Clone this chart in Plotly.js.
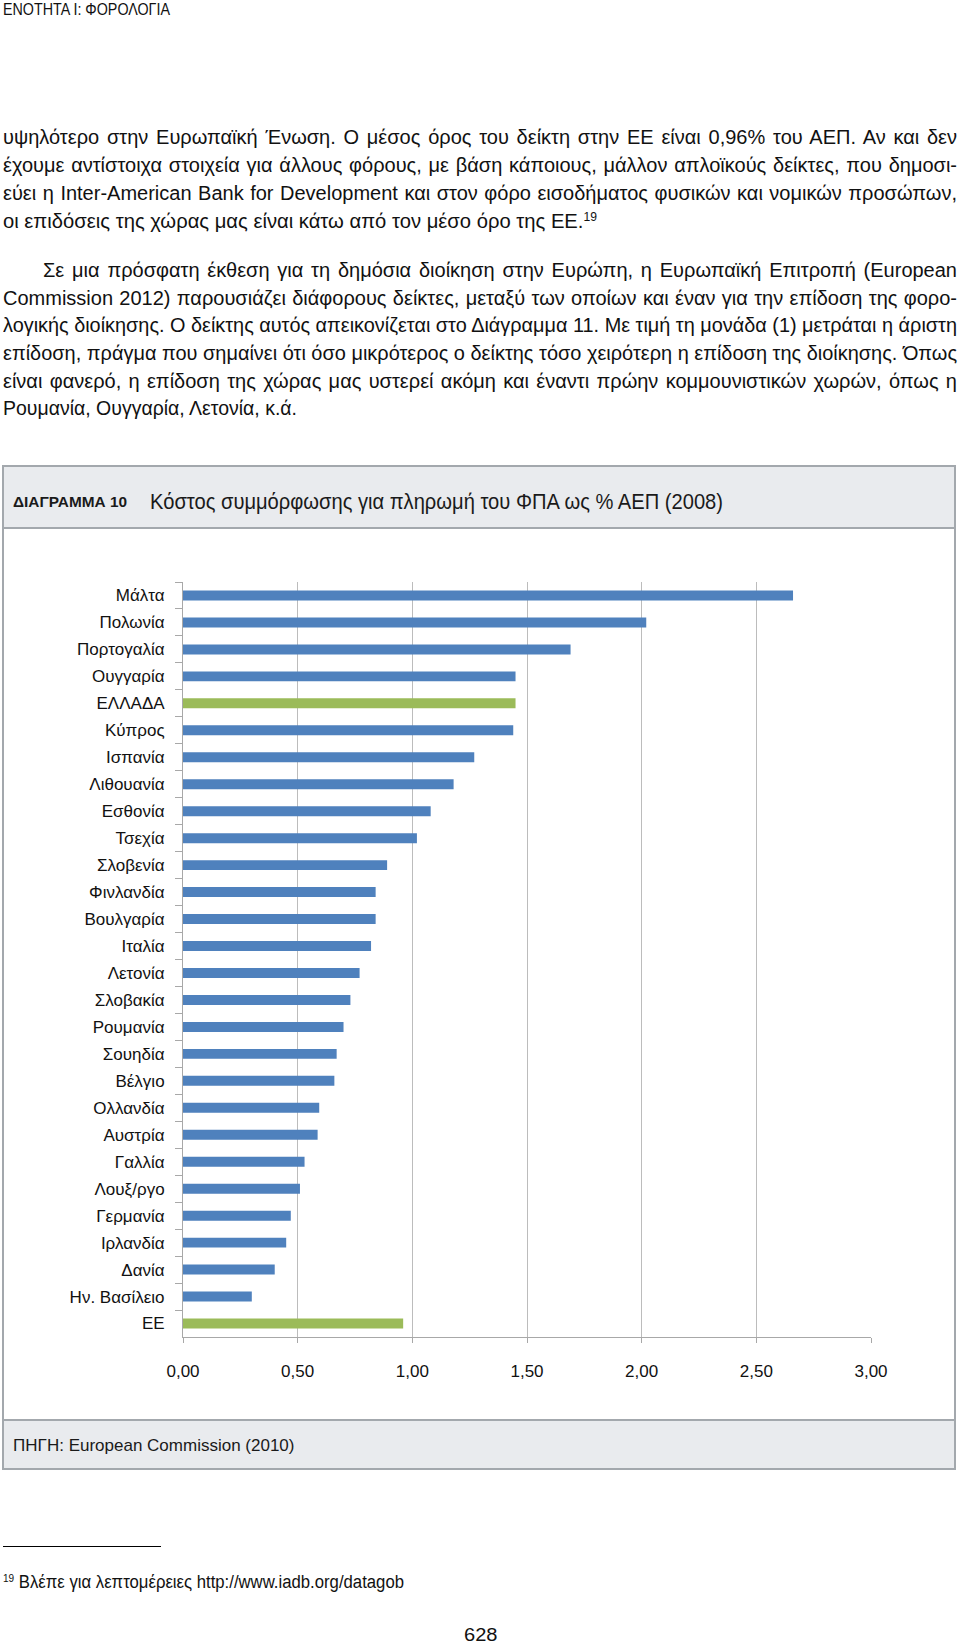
<!DOCTYPE html>
<html>
<head>
<meta charset="utf-8">
<script src="https://cdn.plot.ly/plotly-3.0.1.min.js"></script>
<style>
html,body{margin:0;padding:0;background:#fff;}
body{width:960px;height:1644px;position:relative;overflow:hidden;font-family:"Liberation Sans",Arial,sans-serif;color:#111;}
.t{position:absolute;white-space:nowrap;line-height:1;transform-origin:0 0;}
.t sup{font-size:0.6em;vertical-align:0.55em;line-height:0;}
#box{position:absolute;left:2px;top:465px;width:954px;height:1005px;border:2px solid #a3a8ad;box-sizing:border-box;background:#fff;}
#tbar{position:absolute;left:0;top:0;width:100%;height:62px;background:#e9ebee;border-bottom:2px solid #a3a8ad;box-sizing:border-box;}
#sbar{position:absolute;left:0;top:952px;width:100%;height:49px;background:#e9ebee;border-top:2px solid #a3a8ad;box-sizing:border-box;}
#chart{position:absolute;left:0;top:467px;width:960px;height:1001px;}
#rule{position:absolute;left:3px;top:1546px;width:158px;height:1px;background:#000;}
</style>
</head>
<body>
<div id="box"><div id="tbar"></div><div id="sbar"></div></div>
<div id="chart"></div>
<div id="rule"></div>
<div id="texts"></div>
<script>
// ---------- chart data ----------
const countries = ['Μάλτα','Πολωνία','Πορτογαλία','Ουγγαρία','ΕΛΛΑΔΑ','Κύπρος','Ισπανία','Λιθουανία','Εσθονία','Τσεχία','Σλοβενία','Φινλανδία','Βουλγαρία','Ιταλία','Λετονία','Σλοβακία','Ρουμανία','Σουηδία','Βέλγιο','Ολλανδία','Αυστρία','Γαλλία','Λουξ/ργο','Γερμανία','Ιρλανδία','Δανία','Ην. Βασίλειο','ΕΕ'];
const vatCost = [2.66, 2.02, 1.69, 1.45, 1.45, 1.44, 1.27, 1.18, 1.08, 1.02, 0.89, 0.84, 0.84, 0.82, 0.77, 0.73, 0.70, 0.67, 0.66, 0.594, 0.587, 0.53, 0.51, 0.47, 0.45, 0.40, 0.30, 0.96];
const highlighted = ['ΕΛΛΑΔΑ','ΕΕ'];
const xTickValues = [0, 0.5, 1, 1.5, 2, 2.5, 3];
const xTickLabels = ['0,00','0,50','1,00','1,50','2,00','2,50','3,00'];
const chartTitle = 'Κόστος συμμόρφωσης για πληρωμή του ΦΠΑ ως % ΑΕΠ (2008)';
const chartLabel = 'ΔΙΑΓΡΑΜΜΑ 10';
const chartSource = 'ΠΗΓΗ: European Commission (2010)';

const BLUE = '#4f81bd', GREEN = '#9bbb59';
const barColors = countries.map(c => highlighted.includes(c) ? GREEN : BLUE);

const FONT = '"Liberation Sans", Arial, sans-serif';
const trace = {
  type: 'bar', orientation: 'h',
  y: countries, x: vatCost,
  marker: {color: barColors, line: {width: 0}},
  hoverinfo: 'none'
};
const layout = {
  width: 960, height: 1001,
  margin: {l: 183, r: 89, t: 115, b: 131, pad: 0},
  paper_bgcolor: 'rgba(0,0,0,0)', plot_bgcolor: 'rgba(0,0,0,0)',
  font: {family: FONT, color: '#111', size: 17},
  bargap: 0.63,
  showlegend: false,
  title: {
    text: chartTitle,
    font: {family: FONT, size: 22, color: '#1a1a1a'},
    xref: 'container', x: 150/960, xanchor: 'left',
    yref: 'container', y: 1 - (501-467)/1001, yanchor: 'middle',
    pad: {t: 0, b: 0, l: 0, r: 0}
  },
  xaxis: {
    range: [0, 3], tickvals: xTickValues, ticktext: xTickLabels,
    showgrid: true, gridcolor: '#bcbcbc', gridwidth: 1, zeroline: false,
    showline: true, linecolor: '#a8a8a8', linewidth: 1,
    ticks: 'outside', ticklen: 5, tickcolor: '#a8a8a8', tickwidth: 1,
    tickfont: {family: FONT, size: 17, color: '#111'},
    ticklabelstandoff: 14, fixedrange: true
  },
  yaxis: {
    type: 'category', autorange: 'reversed',
    showline: true, linecolor: '#a8a8a8', linewidth: 1,
    ticks: 'outside', ticklen: 7, tickcolor: '#a8a8a8', tickwidth: 1,
    tickson: 'boundaries', showgrid: false, zeroline: false,
    tickfont: {family: FONT, size: 17, color: '#111'},
    ticklabelstandoff: 14, fixedrange: true
  },
  annotations: [
    {text: chartLabel, xref: 'paper', yref: 'paper', align: 'left',
     x: (11-183)/688, y: (1336.67-502)/755, xanchor: 'left', yanchor: 'middle',
     showarrow: false, font: {family: FONT, size: 14, weight: 'bold', color: '#1a1a1a'}},
    {text: chartSource, xref: 'paper', yref: 'paper', align: 'left',
     x: (11-183)/688, y: (1336.67-1445)/755, xanchor: 'left', yanchor: 'middle',
     showarrow: false, font: {family: FONT, size: 17, color: '#1a1a1a'}}
  ]
};
Plotly.newPlot('chart', [trace], layout, {staticPlot: true, displayModeBar: false}).then(gd => {
  // condensed look of the original typeface: fit title and label to their measured widths
  const title = gd.querySelector('.gtitle');
  if (title) { title.setAttribute('textLength', 573); title.setAttribute('lengthAdjust', 'spacingAndGlyphs'); }
  const ann = gd.querySelectorAll('.annotation-text');
  if (ann[0]) { ann[0].setAttribute('textLength', 114); ann[0].setAttribute('lengthAdjust', 'spacingAndGlyphs'); }
});

// ---------- page text ----------
const pageLines = [
  {html: 'ΕΝΟΤΗΤΑ Ι: ΦΟΡΟΛΟΓΙΑ', x: 3, base: 15, fs: 17, w: 167, mode: 'scale'},
  {html: 'υψηλότερο στην Ευρωπαϊκή Ένωση. Ο μέσος όρος του δείκτη στην ΕΕ είναι 0,96% του ΑΕΠ. Αν και δεν', x: 3, base: 143.5, fs: 20, w: 954, mode: 'justify'},
  {html: 'έχουμε αντίστοιχα στοιχεία για άλλους φόρους, με βάση κάποιους, μάλλον απλοϊκούς δείκτες, που δημοσι-', x: 3, base: 171.8, fs: 20, w: 954, mode: 'justify'},
  {html: 'εύει η Inter-American Bank for Development και στον φόρο εισοδήματος φυσικών και νομικών προσώπων,', x: 3, base: 200, fs: 20, w: 954, mode: 'justify'},
  {html: 'οι επιδόσεις της χώρας μας είναι κάτω από τον μέσο όρο της ΕΕ.<sup>19</sup>', x: 3, base: 228.3, fs: 20, w: 594, mode: 'scale'},
  {html: 'Σε μια πρόσφατη έκθεση για τη δημόσια διοίκηση στην Ευρώπη, η Ευρωπαϊκή Επιτροπή (European', x: 43, base: 277.3, fs: 20, w: 914, mode: 'justify'},
  {html: 'Commission 2012) παρουσιάζει διάφορους δείκτες, μεταξύ των οποίων και έναν για την επίδοση της φορο-', x: 3, base: 304.8, fs: 20, w: 954, mode: 'justify'},
  {html: 'λογικής διοίκησης. Ο δείκτης αυτός απεικονίζεται στο Διάγραμμα 11. Με τιμή τη μονάδα (1) μετράται η άριστη', x: 3, base: 332.4, fs: 20, w: 954, mode: 'justify'},
  {html: 'επίδοση, πράγμα που σημαίνει ότι όσο μικρότερος ο δείκτης τόσο χειρότερη η επίδοση της διοίκησης. Όπως', x: 3, base: 359.9, fs: 20, w: 954, mode: 'justify'},
  {html: 'είναι φανερό, η επίδοση της χώρας μας υστερεί ακόμη και έναντι πρώην κομμουνιστικών χωρών, όπως η', x: 3, base: 387.5, fs: 20, w: 954, mode: 'justify'},
  {html: 'Ρουμανία, Ουγγαρία, Λετονία, κ.ά.', x: 3, base: 415, fs: 20, w: 294, mode: 'scale'},
  {html: '<sup>19</sup> Βλέπε για λεπτομέρειες http://www.iadb.org/datagob', x: 3, base: 1588.3, fs: 18, w: 401, mode: 'scale'},
  {html: '628', x: 463.5, base: 1641.5, fs: 18, w: 33.5, mode: 'scale'}
];
const holder = document.getElementById('texts');
const els = pageLines.map(L => {
  const d = document.createElement('div');
  d.className = 't';
  d.innerHTML = L.html;
  d.style.left = L.x + 'px';
  d.style.fontSize = L.fs + 'px';
  d.style.top = (L.base - 0.8465 * L.fs) + 'px';
  holder.appendChild(d);
  return d;
});
function fitAll() {
  pageLines.forEach((L, i) => {
    const d = els[i];
    d.style.transform = 'none';
    d.style.wordSpacing = '0px';
    const w = d.getBoundingClientRect().width;
    if (L.mode === 'justify') {
      const n = (d.textContent.match(/ /g) || []).length;
      if (w <= L.w && n > 0) {
        d.style.wordSpacing = ((L.w - w) / n) + 'px';
      } else {
        d.style.transform = 'scaleX(' + (L.w / w) + ')';
      }
    } else {
      d.style.transform = 'scaleX(' + (L.w / w) + ')';
    }
  });
}
fitAll();
if (document.fonts && document.fonts.ready) document.fonts.ready.then(fitAll);
</script>
</body>
</html>
